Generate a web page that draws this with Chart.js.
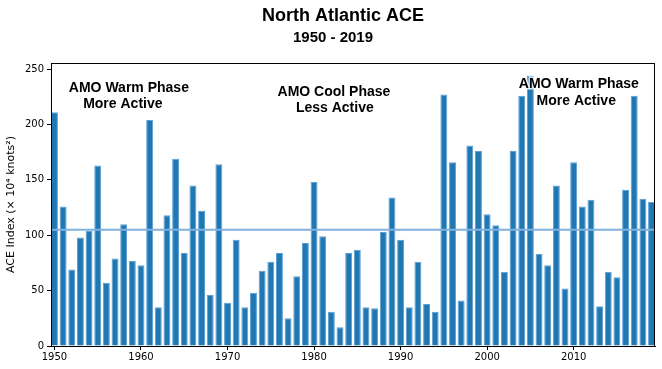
<!DOCTYPE html>
<html>
<head>
<meta charset="utf-8">
<script src="https://cdn.jsdelivr.net/npm/chart.js@4.4.0/dist/chart.umd.min.js"></script>
<style>
    html, body { margin: 0; padding: 0; background: #fff; }
    #wrap { width: 662px; height: 369px; }
</style>
</head>
<body>
<div id="wrap"><canvas id="aceChart" width="662" height="369"></canvas></div>
<script>
// Years and ACE values
const years = [];
for (let y = 1950; y <= 2019; y++) years.push(y);

const aceValues = [
    211, 126, 69, 98, 104, 163, 57, 79, 110, 77,
    73, 204, 35, 118, 169, 84, 145, 122, 46, 164,
    39, 96, 35, 48, 68, 76, 84, 25, 63, 93,
    148, 99, 31, 17, 84, 87, 35, 34, 103, 134,
    96, 35, 76, 38, 31, 227, 166, 41, 181, 176,
    119, 109, 67, 176, 226, 244, 83, 73, 145, 52,
    166, 126, 132, 36, 67, 62, 141, 226, 133, 130
];

const meanAce = 105;
const xTicks = [1950, 1960, 1970, 1980, 1990, 2000, 2010];
const yTicks = [0, 50, 100, 150, 200, 250];

// text labels on the plot
const phaseLabels = [
    { text: 'AMO Warm Phase', x: 1958.6, y: 233 },
    { text: 'More Active', x: 1957.9, y: 218 },
    { text: 'AMO Cool Phase', x: 1982.3, y: 229 },
    { text: 'Less Active', x: 1982.4, y: 215 },
    { text: 'AMO Warm Phase', x: 2010.6, y: 236 },
    { text: 'More Active', x: 2010.3, y: 221 }
];

const overlay = {
    id: 'overlay',
    afterDatasetsDraw(chart) {
        const ctx = chart.ctx;
        const area = chart.chartArea;
        const xs = chart.scales.x;
        const ys = chart.scales.y;

        // mean line
        const my = ys.getPixelForValue(meanAce);
        ctx.save();
        ctx.strokeStyle = '#80b1dc';
        ctx.lineWidth = 2;
        ctx.beginPath();
        ctx.moveTo(area.left, my);
        ctx.lineTo(area.right, my);
        ctx.stroke();

        // phase labels
        ctx.font = 'bold 14px "Liberation Sans", Arial, sans-serif';
        ctx.textAlign = 'center';
        ctx.textBaseline = 'middle';
        ctx.lineJoin = 'round';
        phaseLabels.forEach(l => {
            const px = xs.getPixelForValue(l.x);
            const py = ys.getPixelForValue(l.y);
            ctx.strokeStyle = 'rgba(255,255,255,0.8)';
            ctx.lineWidth = 3;
            ctx.strokeText(l.text, px, py);
            ctx.fillStyle = '#000';
            ctx.fillText(l.text, px, py);
        });
        ctx.restore();
    },
    afterDraw(chart) {
        const ctx = chart.ctx;
        const area = chart.chartArea;
        ctx.save();
        // frame round the plot
        ctx.strokeStyle = '#000';
        ctx.lineWidth = 1;
        ctx.strokeRect(area.left + 0.5, area.top + 0.5, area.right - area.left - 1, area.bottom - area.top);

        // titles
        ctx.fillStyle = '#000';
        ctx.textAlign = 'center';
        ctx.textBaseline = 'middle';
        ctx.font = 'bold 18px "Liberation Sans", Arial, sans-serif';
        ctx.fillText('North Atlantic ACE', 343, 16);
        ctx.font = 'bold 15px "Liberation Sans", Arial, sans-serif';
        ctx.fillText('1950 - 2019', 333, 38);
        ctx.restore();
    }
};

const ctx = document.getElementById('aceChart').getContext('2d');
new Chart(ctx, {
    type: 'bar',
    data: {
        datasets: [{
            data: years.map((yr, i) => ({ x: yr, y: aceValues[i] })),
            backgroundColor: '#1f77b4',
            borderColor: '#5d9fd2',
            borderWidth: 1,
            barPercentage: 0.8,
            categoryPercentage: 1.0
        }]
    },
    options: {
        responsive: false,
        animation: false,
        layout: { padding: { top: 63, right: 7, bottom: 0, left: 0 } },
        plugins: {
            legend: { display: false },
            tooltip: { enabled: false }
        },
        scales: {
            x: {
                type: 'linear',
                offset: false,
                bounds: 'data',
                min: 1949.6,
                max: 2019.4,
                afterBuildTicks: (axis) => { axis.ticks = xTicks.map(v => ({ value: v })); },
                afterFit: (scale) => { scale.height = 23; },
                grid: { offset: false, drawOnChartArea: false, drawTicks: true, tickLength: 4, color: '#000' },
                border: { display: true, color: '#000' },
                ticks: {
                    color: '#000',
                    padding: 1,
                    maxRotation: 0,
                    font: { family: '"DejaVu Sans"', size: 10 },
                    callback: (v) => String(v)
                }
            },
            y: {
                min: 0,
                max: 255.5,
                afterBuildTicks: (axis) => { axis.ticks = yTicks.map(v => ({ value: v })); },
                afterFit: (scale) => { scale.width = 51; },
                grid: { drawOnChartArea: false, drawTicks: true, tickLength: 4, color: '#000' },
                border: { display: true, color: '#000' },
                ticks: {
                    color: '#000',
                    padding: 3,
                    font: { family: '"DejaVu Sans"', size: 10 }
                },
                title: {
                    display: true,
                    text: 'ACE Index (\u00d7 10\u2074 knots\u00b2)',
                    color: '#000',
                    padding: { top: 5, bottom: 0 },
                    font: { family: '"DejaVu Sans"', size: 11 }
                }
            }
        }
    },
    plugins: [overlay]
});
</script>
</body>
</html>
